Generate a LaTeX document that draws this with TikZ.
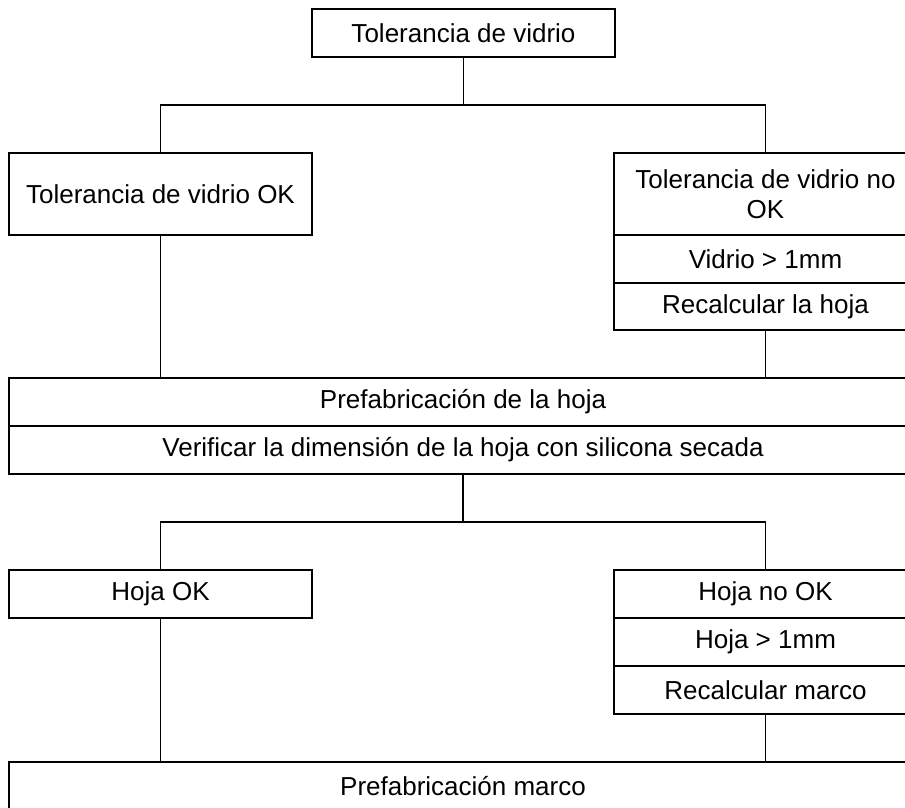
\documentclass[tikz,border=0pt]{standalone}
\usepackage{fontspec}
\setmainfont{Liberation Sans}
\begin{document}
\begin{tikzpicture}[x=1pt,y=-1pt,
  cell/.style={draw=black, line width=1.3pt, rectangle, inner sep=0pt, outer sep=0pt,
    align=center, font=\fontsize{26}{30}\selectfont},
  side/.style={cell, minimum width=303pt},
  wide/.style={cell, minimum width=908pt},
  link/.style={draw=black, line width=1.3pt}]
\useasboundingbox (0,0) rectangle (905,808);
\clip (0,0) rectangle (905,808);
\fill[white] (0,0) rectangle (905,808);
% top
\node[cell, minimum width=303pt, minimum height=48pt] (top) at (463.5,33) {Tolerancia de vidrio};
% first level
\node[side, minimum height=82pt] (lok) at (160.5,194) {Tolerancia de vidrio OK};
\node[side, minimum height=82pt] (rnok) at (765.5,194) {Tolerancia de vidrio no\\OK};
\node[side, minimum height=48pt] (rv) at (765.5,259) {Vidrio > 1mm};
\node[side, minimum height=47pt] (rr) at (765.5,306.5) {Recalcular la hoja};
% big
\node[wide, minimum height=48pt] (pre) at (463,402) {Prefabricación de la hoja};
\node[wide, minimum height=48pt] (ver) at (463,450) {Verificar la dimensión de la hoja con silicona secada};
% second level
\node[side, minimum height=48pt] (hok) at (160.5,594) {Hoja OK};
\node[side, minimum height=48pt] (hnok) at (765.5,594) {Hoja no OK};
\node[side, minimum height=48pt] (h1) at (765.5,642) {Hoja > 1mm};
\node[side, minimum height=48pt] (rm) at (765.5,690) {Recalcular marco};
% bottom
\node[wide, minimum height=48pt] (pm) at (463,786) {Prefabricación marco};
% connectors
\coordinate (j1) at (463.5,105);
\coordinate (j2) at (463,522);
\draw[link] (top.south) -- (j1);
\draw[link] (lok.north) |- (j1) -| (rnok.north);
\draw[link] (lok.south) -- (lok.south |- pre.north);
\draw[link] (rr.south) -- (rr.south |- pre.north);
\draw[link] (ver.south) -- (j2);
\draw[link] (hok.north) |- (j2) -| (hnok.north);
\draw[link] (hok.south) -- (hok.south |- pm.north);
\draw[link] (rm.south) -- (rm.south |- pm.north);
\end{tikzpicture}
\end{document}
